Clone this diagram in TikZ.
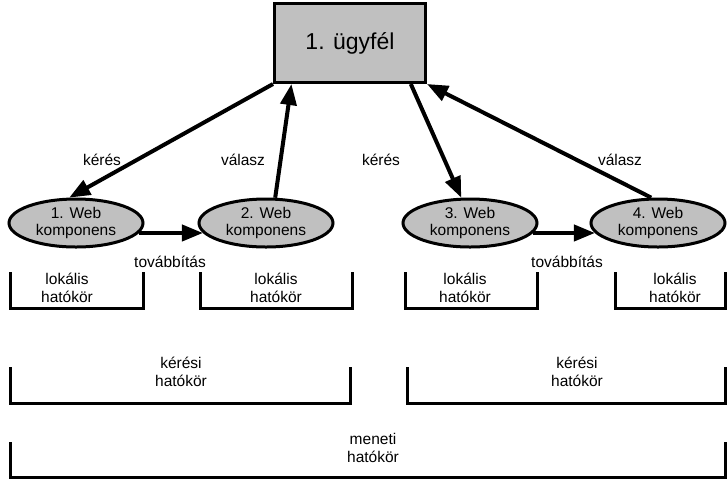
\documentclass[tikz,border=0pt]{standalone}
\usepackage{fontspec}
\setmainfont{Liberation Sans}
\usepackage{tikz}
\usetikzlibrary{positioning,arrows.meta,shapes.geometric}

\definecolor{boxgray}{HTML}{C0C0C0}

\begin{document}
\begin{tikzpicture}[x=1pt,y=-1pt,
    comp/.style={draw, ellipse, line width=3pt, fill=boxgray,
        minimum width=134pt, minimum height=48pt, inner sep=0pt,
        align=center, font=\fontsize{15.5}{16.5}\selectfont},
    flow/.style={-{Triangle[length=21pt,width=16pt]}, line width=4pt},
    scopeline/.style={line width=3pt},
    lbl/.style={align=center, inner sep=0pt,
        font=\fontsize{15.5}{17.5}\selectfont}
]
\useasboundingbox (0,0) rectangle (727,480);

    % client
    \node [draw,
        line width=3pt,
        fill=boxgray,
        minimum width=151pt,
        minimum height=79pt,
        font=\fontsize{23}{25}\selectfont
    ] (client) at (350,43) {1. ügyfél};

    % web components
    \node [comp] (web1) at (76,223) {1. Web\\komponens};
    \node [comp] (web2) at (266,223) {2. Web\\komponens};
    \node [comp] (web3) at (470,223) {3. Web\\komponens};
    \node [comp] (web4) at (658,223) {4. Web\\komponens};

    % requests and responses
    \draw[flow] (client.south west) -- (web1.105);
    \draw[flow] (web2.70) -- (client.215);
    \draw[flow] (client.-34) -- (web3.109);
    \draw[flow] (web4.105) -- (client.south east);

    \node[lbl] (req1) at (102,160) {kérés};
    \node[lbl] (resp1) at (243,160) {válasz};
    \node[lbl] (req2) at (381,160) {kérés};
    \node[lbl] (resp2) at (620,160) {válasz};

    % forwarding
    \draw[flow] (web1.-9) -- (web2.189);
    \draw[flow] (web3.-9) -- (web4.189);

    \node[lbl] (fwd1) at (170,262) {továbbítás};
    \node[lbl] (fwd2) at (567,262) {továbbítás};

    % local scopes
    \draw[scopeline] (10,272) |- (143,308) -- (143,272);
    \draw[scopeline] (200,272) |- (352,308) -- (352,272);
    \draw[scopeline] (405,272) |- (537,308) -- (537,272);
    \draw[scopeline] (615,272) |- (725,308) -- (725,272);

    \node[lbl] (loc1) at (67,288) {lokális\\hatókör};
    \node[lbl] (loc2) at (276,288) {lokális\\hatókör};
    \node[lbl] (loc3) at (465,288) {lokális\\hatókör};
    \node[lbl] (loc4) at (675,288) {lokális\\hatókör};

    % request scopes
    \draw[scopeline] (10,367) |- (350,403) -- (350,367);
    \draw[scopeline] (407,367) |- (725,403) -- (725,367);

    \node[lbl] (reqsc1) at (181,372) {kérési\\hatókör};
    \node[lbl] (reqsc2) at (577,372) {kérési\\hatókör};

    % session scope
    \draw[scopeline] (10,442) |- (725,477) -- (725,442);

    \node[lbl] (sess) at (373,448) {meneti\\hatókör};

\end{tikzpicture}
\end{document}
